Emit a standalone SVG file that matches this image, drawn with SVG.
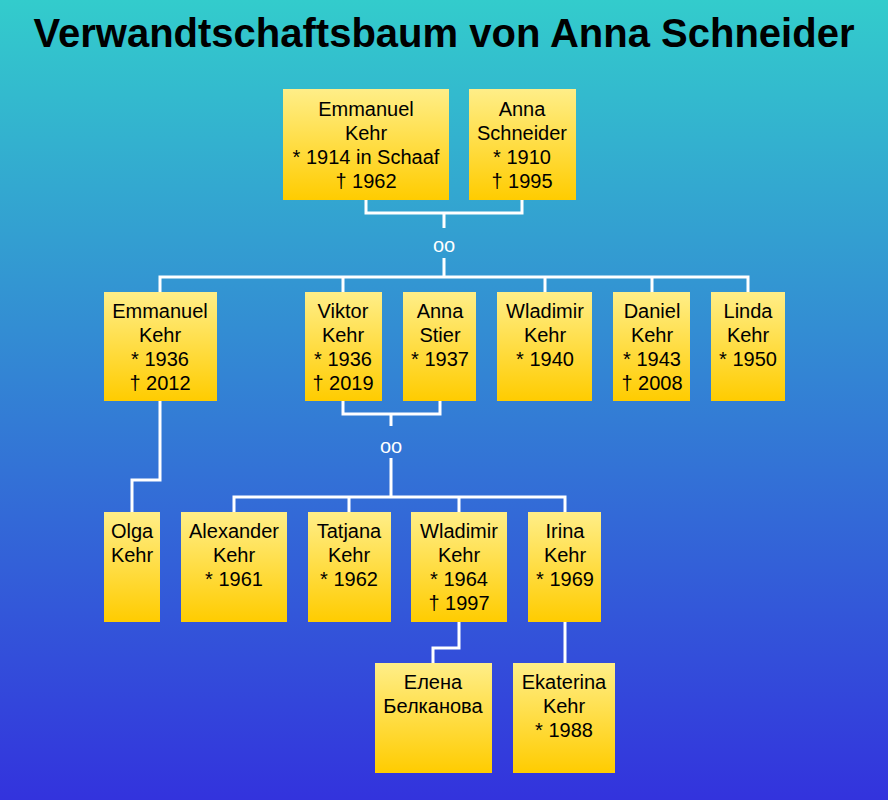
<svg xmlns="http://www.w3.org/2000/svg" width="888" height="800" viewBox="0 0 888 800">
<defs>
<linearGradient id="bg" x1="0" y1="0" x2="0" y2="1"><stop offset="0" stop-color="#33CCCC"/><stop offset="1" stop-color="#3333DD"/></linearGradient>
<linearGradient id="bx" x1="0" y1="0" x2="0" y2="1"><stop offset="0" stop-color="#FFEE88"/><stop offset="1" stop-color="#FFCC00"/></linearGradient>
</defs>
<style>
.b{fill:url(#bx)}
.t{font-family:"Liberation Sans",Arial,sans-serif;font-size:20px;text-anchor:middle;fill:#000}
.c{fill:none;stroke:#fff;stroke-width:3}
.o{font-family:"Liberation Sans",Arial,sans-serif;font-size:20px;text-anchor:middle;fill:#fff}
</style>
<rect width="888" height="800" fill="url(#bg)"/>
<text x="444" y="47" font-family="Liberation Sans,Arial,sans-serif" font-size="40" font-weight="bold" text-anchor="middle">Verwandtschaftsbaum von Anna Schneider</text>
<g id="connectors">
<path class="c" d="M366 200V213H522V200M444 213V228M444 258V277M160 292V277H748V292M343 277V292M545 277V292M652 277V292"/>
<path class="c" d="M343 401V414H440V401M391 414V426M391 458V497M234 512V497H565V512M349 497V512M459 497V512"/>
<path class="c" d="M160 401V480H132V512M459 622V648H433V663M565 622V663"/>
<text class="o" x="444" y="252">oo</text>
<text class="o" x="391" y="453">oo</text>
</g>
<g id="emmanuel1"><rect class="b" x="283" y="89" width="166" height="111"/><text class="t"><tspan x="366" y="116">Emmanuel</tspan><tspan x="366" y="140">Kehr</tspan><tspan x="366" y="164">* 1914 in Schaaf</tspan><tspan x="366" y="188">† 1962</tspan></text></g>
<g id="anna1"><rect class="b" x="469" y="89" width="107" height="111"/><text class="t"><tspan x="522" y="116">Anna</tspan><tspan x="522" y="140">Schneider</tspan><tspan x="522" y="164">* 1910</tspan><tspan x="522" y="188">† 1995</tspan></text></g>
<g id="emmanuel2"><rect class="b" x="104" y="292" width="113" height="109"/><text class="t"><tspan x="160" y="318">Emmanuel</tspan><tspan x="160" y="342">Kehr</tspan><tspan x="160" y="366">* 1936</tspan><tspan x="160" y="390">† 2012</tspan></text></g>
<g id="viktor"><rect class="b" x="305" y="292" width="77" height="109"/><text class="t"><tspan x="343" y="318">Viktor</tspan><tspan x="343" y="342">Kehr</tspan><tspan x="343" y="366">* 1936</tspan><tspan x="343" y="390">† 2019</tspan></text></g>
<g id="annastier"><rect class="b" x="403" y="292" width="73" height="109"/><text class="t"><tspan x="440" y="318">Anna</tspan><tspan x="440" y="342">Stier</tspan><tspan x="440" y="366">* 1937</tspan></text></g>
<g id="wladimir1"><rect class="b" x="497" y="292" width="95" height="109"/><text class="t"><tspan x="545" y="318">Wladimir</tspan><tspan x="545" y="342">Kehr</tspan><tspan x="545" y="366">* 1940</tspan></text></g>
<g id="daniel"><rect class="b" x="613" y="292" width="77" height="109"/><text class="t"><tspan x="652" y="318">Daniel</tspan><tspan x="652" y="342">Kehr</tspan><tspan x="652" y="366">* 1943</tspan><tspan x="652" y="390">† 2008</tspan></text></g>
<g id="linda"><rect class="b" x="711" y="292" width="74" height="109"/><text class="t"><tspan x="748" y="318">Linda</tspan><tspan x="748" y="342">Kehr</tspan><tspan x="748" y="366">* 1950</tspan></text></g>
<g id="olga"><rect class="b" x="104" y="512" width="56" height="110"/><text class="t"><tspan x="132" y="538">Olga</tspan><tspan x="132" y="562">Kehr</tspan></text></g>
<g id="alexander"><rect class="b" x="181" y="512" width="106" height="110"/><text class="t"><tspan x="234" y="538">Alexander</tspan><tspan x="234" y="562">Kehr</tspan><tspan x="234" y="586">* 1961</tspan></text></g>
<g id="tatjana"><rect class="b" x="308" y="512" width="83" height="110"/><text class="t"><tspan x="349" y="538">Tatjana</tspan><tspan x="349" y="562">Kehr</tspan><tspan x="349" y="586">* 1962</tspan></text></g>
<g id="wladimir2"><rect class="b" x="411" y="512" width="96" height="110"/><text class="t"><tspan x="459" y="538">Wladimir</tspan><tspan x="459" y="562">Kehr</tspan><tspan x="459" y="586">* 1964</tspan><tspan x="459" y="610">† 1997</tspan></text></g>
<g id="irina"><rect class="b" x="528" y="512" width="73" height="110"/><text class="t"><tspan x="565" y="538">Irina</tspan><tspan x="565" y="562">Kehr</tspan><tspan x="565" y="586">* 1969</tspan></text></g>
<g id="elena"><rect class="b" x="375" y="663" width="117" height="110"/><text class="t"><tspan x="433" y="689">Елена</tspan><tspan x="433" y="713">Белканова</tspan></text></g>
<g id="ekaterina"><rect class="b" x="513" y="663" width="102" height="110"/><text class="t"><tspan x="564" y="689">Ekaterina</tspan><tspan x="564" y="713">Kehr</tspan><tspan x="564" y="737">* 1988</tspan></text></g>
</svg>
